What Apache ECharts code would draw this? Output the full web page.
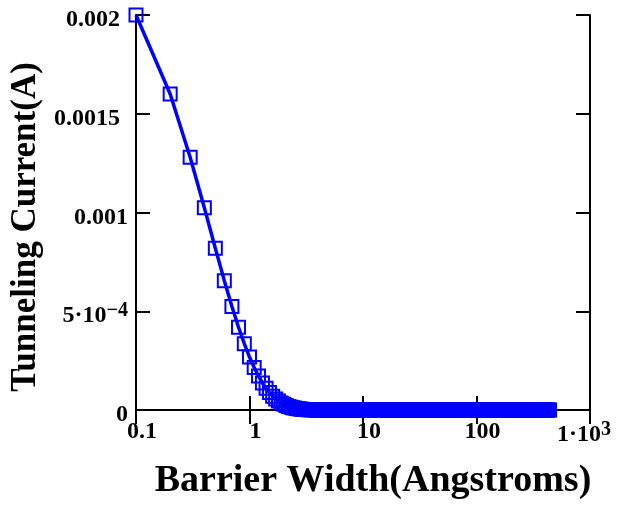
<!DOCTYPE html>
<html>
<head>
<meta charset="utf-8">
<script src="https://cdn.jsdelivr.net/npm/echarts@6/dist/echarts.min.js"></script>
<style>
html,body{margin:0;padding:0;background:#fff;}
#chart{width:619px;height:505px;}
</style>
</head>
<body>
<div id="chart"></div>
<script>
// Barrier width (Angstroms)
const widths = [
  0.1, 0.2, 0.3, 0.4, 0.5, 0.6, 0.7, 0.8, 0.9, 1.0,
  1.1, 1.2, 1.3, 1.4, 1.5, 1.6, 1.7, 1.8, 1.9, 2.0,
  2.1, 2.2, 2.3, 2.4, 2.5, 2.6, 2.7, 2.8, 2.9, 3.0,
  3.1, 3.2, 3.3, 3.4, 3.5, 3.6, 3.7, 3.8, 3.9, 4.0,
  4.1, 4.2, 4.3, 4.4, 4.5, 4.6, 4.7, 4.8, 4.9, 5.0,
  5.1, 5.2, 5.3, 5.4, 5.5, 5.6, 5.7, 5.8, 5.9, 6.0,
  6.1, 6.2, 6.3, 6.4, 6.5, 6.6, 6.7, 6.8, 6.9, 7.0,
  7.1, 7.2, 7.3, 7.4, 7.5, 7.6, 7.7, 7.8, 7.9, 8.0,
  8.1, 8.2, 8.3, 8.4, 8.5, 8.6, 8.7, 8.8, 8.9, 9.0,
  9.1, 9.2, 9.3, 9.4, 9.5, 9.6, 9.7, 9.8, 9.9, 10.0,
  10.1, 10.2, 10.3, 10.4, 10.5, 10.6, 10.7, 10.8, 10.9, 11.0,
  11.1, 11.2, 11.3, 11.4, 11.5, 11.6, 11.7, 11.8, 11.9, 12.0,
  12.1, 12.2, 12.3, 12.4, 12.5, 12.6, 12.7, 12.8, 12.9, 13.0,
  13.1, 13.2, 13.3, 13.4, 13.5, 13.6, 13.7, 13.8, 13.9, 14.0,
  14.1, 14.2, 14.3, 14.4, 14.5, 14.6, 14.7, 14.8, 14.9, 15.0,
  15.1, 15.2, 15.3, 15.4, 15.5, 15.6, 15.7, 15.8, 15.9, 16.0,
  16.1, 16.2, 16.3, 16.4, 16.5, 16.6, 16.7, 16.8, 16.9, 17.0,
  17.1, 17.2, 17.3, 17.4, 17.5, 17.6, 17.7, 17.8, 17.9, 18.0,
  18.1, 18.2, 18.3, 18.4, 18.5, 18.6, 18.7, 18.8, 18.9, 19.0,
  19.1, 19.2, 19.3, 19.4, 19.5, 19.6, 19.7, 19.8, 19.9, 20.0,
  20.5, 21, 21.5, 22, 22.5, 23, 23.5, 24, 24.5, 25,
  25.5, 26, 26.5, 27, 27.5, 28, 28.5, 29, 29.5, 30,
  30.5, 31, 31.5, 32, 32.5, 33, 33.5, 34, 34.5, 35,
  35.5, 36, 36.5, 37, 37.5, 38, 38.5, 39, 39.5, 40,
  41, 42, 43, 44, 45, 46, 47, 48, 49, 50,
  51, 52, 53, 54, 55, 56, 57, 58, 59, 60,
  61, 62, 63, 64, 65, 66, 67, 68, 69, 70,
  71, 72, 73, 74, 75, 76, 77, 78, 79, 80,
  82, 84, 86, 88, 90, 92, 94, 96, 98, 100,
  102, 104, 106, 108, 110, 112, 114, 116, 118, 120,
  122, 124, 126, 128, 130, 132, 134, 136, 138, 140,
  142, 144, 146, 148, 150, 152, 154, 156, 158, 160,
  164, 168, 172, 176, 180, 184, 188, 192, 196, 200,
  204, 208, 212, 216, 220, 224, 228, 232, 236, 240,
  244, 248, 252, 256, 260, 264, 268, 272, 276, 280,
  284, 288, 292, 296, 300, 304, 308, 312, 316, 320,
  328, 336, 344, 352, 360, 368, 376, 384, 392, 400, 408, 416, 424, 432, 440
];
// Tunneling current (A)
const currents = [
  0.002, 0.0016, 0.00128, 0.001024, 0.000819, 0.000655, 0.000524, 0.000419, 0.000336, 0.000268,
  0.000215, 0.000172, 0.000137, 0.00011, 0.000088, 0.00007, 0.000056, 0.000045, 0.000036, 0.000029,
  0.000023, 0.000018, 0.000015, 0.000012, 0.0000095, 0.0000076, 0.0000061, 0.0000049, 0.0000039, 0.0000031,
  0.0000025, 0.000002, 0.0000016, 0.0000013, 0.000001, 0.0000008, 0.00000065, 0.0000005, 0.0000004, 0.00000033,
  0, 0, 0, 0, 0, 0, 0, 0, 0, 0,
  0, 0, 0, 0, 0, 0, 0, 0, 0, 0,
  0, 0, 0, 0, 0, 0, 0, 0, 0, 0,
  0, 0, 0, 0, 0, 0, 0, 0, 0, 0,
  0, 0, 0, 0, 0, 0, 0, 0, 0, 0,
  0, 0, 0, 0, 0, 0, 0, 0, 0, 0,
  0, 0, 0, 0, 0, 0, 0, 0, 0, 0,
  0, 0, 0, 0, 0, 0, 0, 0, 0, 0,
  0, 0, 0, 0, 0, 0, 0, 0, 0, 0,
  0, 0, 0, 0, 0, 0, 0, 0, 0, 0,
  0, 0, 0, 0, 0, 0, 0, 0, 0, 0,
  0, 0, 0, 0, 0, 0, 0, 0, 0, 0,
  0, 0, 0, 0, 0, 0, 0, 0, 0, 0,
  0, 0, 0, 0, 0, 0, 0, 0, 0, 0,
  0, 0, 0, 0, 0, 0, 0, 0, 0, 0,
  0, 0, 0, 0, 0, 0, 0, 0, 0, 0,
  0, 0, 0, 0, 0, 0, 0, 0, 0, 0,
  0, 0, 0, 0, 0, 0, 0, 0, 0, 0,
  0, 0, 0, 0, 0, 0, 0, 0, 0, 0,
  0, 0, 0, 0, 0, 0, 0, 0, 0, 0,
  0, 0, 0, 0, 0, 0, 0, 0, 0, 0,
  0, 0, 0, 0, 0, 0, 0, 0, 0, 0,
  0, 0, 0, 0, 0, 0, 0, 0, 0, 0,
  0, 0, 0, 0, 0, 0, 0, 0, 0, 0,
  0, 0, 0, 0, 0, 0, 0, 0, 0, 0,
  0, 0, 0, 0, 0, 0, 0, 0, 0, 0,
  0, 0, 0, 0, 0, 0, 0, 0, 0, 0,
  0, 0, 0, 0, 0, 0, 0, 0, 0, 0,
  0, 0, 0, 0, 0, 0, 0, 0, 0, 0,
  0, 0, 0, 0, 0, 0, 0, 0, 0, 0,
  0, 0, 0, 0, 0, 0, 0, 0, 0, 0,
  0, 0, 0, 0, 0, 0, 0, 0, 0, 0,
  0, 0, 0, 0, 0, 0, 0, 0, 0, 0, 0, 0, 0, 0, 0
];
// Tick labels (keyed by decade exponent / by value in units of 1e-4)
const xTickLabels = {'-1': '{n|0.1}', '0': '{n|1}', '1': '{n|10}', '2': '{n|100}', '3': '{m|1·10}{supr|3}'};
const yTickLabels = {'0': '0', '5': '5·10{sup|−4}', '10': '0.001', '15': '{r|0.0015}', '20': '{r|0.002}'};

const xTitle = 'Barrier Width(Angstroms)';
const yTitle = 'Tunneling Current(A)';

const FONT = 'Liberation Serif';
const BLUE = '#0000ff';

const data = widths.map((w, i) => [w, currents[i]]);

const chart = echarts.init(document.getElementById('chart'), null, {renderer: 'canvas'});

const txt = {fontFamily: FONT, fontWeight: 'bold', color: '#000'};
const baseLabel = Object.assign({}, txt, {
  fontSize: 24,
  rich: {
    n: Object.assign({}, txt, {fontSize: 24, padding: [0, 0, 0, 12]}),
    m: Object.assign({}, txt, {fontSize: 24}),
    r: Object.assign({}, txt, {fontSize: 24, padding: [0, 8, 0, 0]}),
    sup: Object.assign({}, txt, {fontSize: 20, verticalAlign: 'top', padding: [0, 0, 10, 0]}),
    supr: Object.assign({}, txt, {fontSize: 20, verticalAlign: 'top', padding: [0, 12, 10, 0]})
  }
});

chart.setOption({
  animation: false,
  backgroundColor: '#fff',
  grid: {left: 136, right: 29, top: 15, bottom: 91, containLabel: false},
  xAxis: [{
    type: 'log', logBase: 10, min: 0.1, max: 1000,
    position: 'bottom',
    name: xTitle, nameLocation: 'middle', nameGap: 52,
    nameTextStyle: Object.assign({}, txt, {fontSize: 38, padding: [0, 0, 0, 20]}),
    axisLine: {show: true, lineStyle: {color: '#000', width: 2}},
    axisTick: {show: true, inside: true, length: 14, lineStyle: {color: '#000', width: 2}},
    minorTick: {show: false},
    splitLine: {show: false},
    axisLabel: Object.assign({}, baseLabel, {
      margin: 10,
      formatter: function (v) {
        const k = String(Math.round(Math.log10(v)));
        return xTickLabels[k] !== undefined ? xTickLabels[k] : '';
      }
    })
  }, {
    type: 'log', logBase: 10, min: 0.1, max: 1000,
    position: 'top',
    axisLine: {show: true, lineStyle: {color: '#000', width: 2}},
    axisTick: {show: true, inside: true, length: 14, lineStyle: {color: '#000', width: 2}},
    axisLabel: {show: false},
    splitLine: {show: false}
  }],
  yAxis: [{
    type: 'value', min: 0, max: 0.002, interval: 0.0005,
    position: 'left',
    name: yTitle, nameLocation: 'middle', nameGap: 93, nameRotate: 90,
    nameTextStyle: Object.assign({}, txt, {fontSize: 35, padding: [0, 29, 0, 0]}),
    axisLine: {show: true, lineStyle: {color: '#000', width: 2}},
    axisTick: {show: true, inside: true, length: 14, lineStyle: {color: '#000', width: 2}},
    splitLine: {show: false},
    axisLabel: Object.assign({}, baseLabel, {
      margin: 8,
      padding: [10, 0, 0, 0],
      formatter: function (v) {
        const k = String(Math.round(v * 10000));
        return yTickLabels[k] !== undefined ? yTickLabels[k] : '';
      }
    })
  }, {
    type: 'value', min: 0, max: 0.002, interval: 0.0005,
    position: 'right',
    axisLine: {show: true, lineStyle: {color: '#000', width: 2}},
    axisTick: {show: true, inside: true, length: 14, lineStyle: {color: '#000', width: 2}},
    axisLabel: {show: false},
    splitLine: {show: false}
  }],
  series: [{
    type: 'line',
    xAxisIndex: 0, yAxisIndex: 0,
    data: data,
    showAllSymbol: true,
    symbol: 'rect',
    symbolSize: 13,
    clip: false,
    lineStyle: {color: BLUE, width: 3.5},
    itemStyle: {color: 'rgba(0,0,0,0)', borderColor: BLUE, borderWidth: 2},
    emphasis: {disabled: true}
  }]
});
</script>
</body>
</html>
